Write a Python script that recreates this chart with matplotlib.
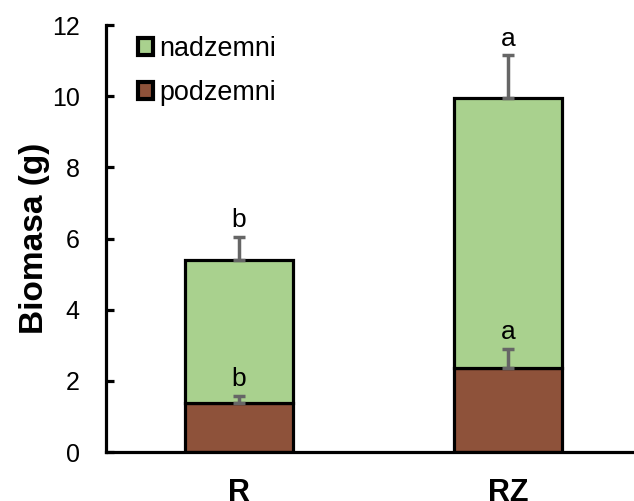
import matplotlib
matplotlib.use("Agg")
import matplotlib.pyplot as plt
from matplotlib.patches import Patch
import numpy as np

plt.rcParams['font.family'] = ['Liberation Sans', 'DejaVu Sans']

categories = ['R', 'RZ']
podzemni = [1.38, 2.36]
nadzemni_total = [5.39, 9.94]
podzemni_err = [0.19, 0.53]
total_err = [0.65, 1.21]
letters_total = ['b', 'a']
letters_podz = ['b', 'a']

nadzemni = [t - p for t, p in zip(nadzemni_total, podzemni)]

green = '#A9D18E'
brown = '#8E523A'
errc = '#666666'

fig = plt.figure(figsize=(6.34, 5.01), dpi=100)
ax = fig.add_axes([106/634, 49/501, 1 - 106/634, 427/501])

x = np.arange(len(categories))
w = 0.40
ax.bar(x, podzemni, w, color=brown, edgecolor='black', linewidth=2.3, zorder=2)
ax.bar(x, nadzemni, w, bottom=podzemni, color=green, edgecolor='black', linewidth=2.3, zorder=2)

ekw = dict(fmt='none', ecolor=errc, elinewidth=2.5, capsize=4.5, capthick=2.5, zorder=3)
ax.errorbar(x, nadzemni_total, yerr=[np.zeros(len(x)), total_err], **ekw)
ax.errorbar(x, podzemni, yerr=[np.zeros(len(x)), podzemni_err], **ekw)

for xi, t, e, l in zip(x, nadzemni_total, total_err, letters_total):
    ax.annotate(l, (xi, t + e), xytext=(0, 7), textcoords='offset points',
                ha='center', va='baseline', fontsize=19)
for xi, t, e, l in zip(x, podzemni, podzemni_err, letters_podz):
    ax.annotate(l, (xi, t + e), xytext=(0, 7), textcoords='offset points',
                ha='center', va='baseline', fontsize=19)

ax.set_xlim(-0.494, 1.468)
ax.set_ylim(0, 12)
ax.set_yticks(np.arange(0, 13, 2))
ax.set_xticks(x)
ax.set_xticklabels(categories, fontsize=22, fontweight='bold')
ax.tick_params(axis='x', length=0, pad=19)
ax.tick_params(axis='y', direction='in', length=6, width=2.3, labelsize=18, pad=19)

for s in ['top', 'right']:
    ax.spines[s].set_visible(False)
for s in ['left', 'bottom']:
    ax.spines[s].set_linewidth(2.3)

ax.set_ylabel('Biomasa (g)', fontsize=24, fontweight='bold', labelpad=1)

handles = [Patch(facecolor=green, edgecolor='black', linewidth=3),
           Patch(facecolor=brown, edgecolor='black', linewidth=3)]
leg = ax.legend(handles, ['nadzemni', 'podzemni'], loc='upper left',
                bbox_to_anchor=(138/634, 1 - 36/501), bbox_transform=fig.transFigure,
                frameon=False, fontsize=19.4, handlelength=0.55, handleheight=0.55,
                handletextpad=0.25, labelspacing=0.67, borderpad=0, borderaxespad=0)

fig.savefig('out.png', dpi=100)
